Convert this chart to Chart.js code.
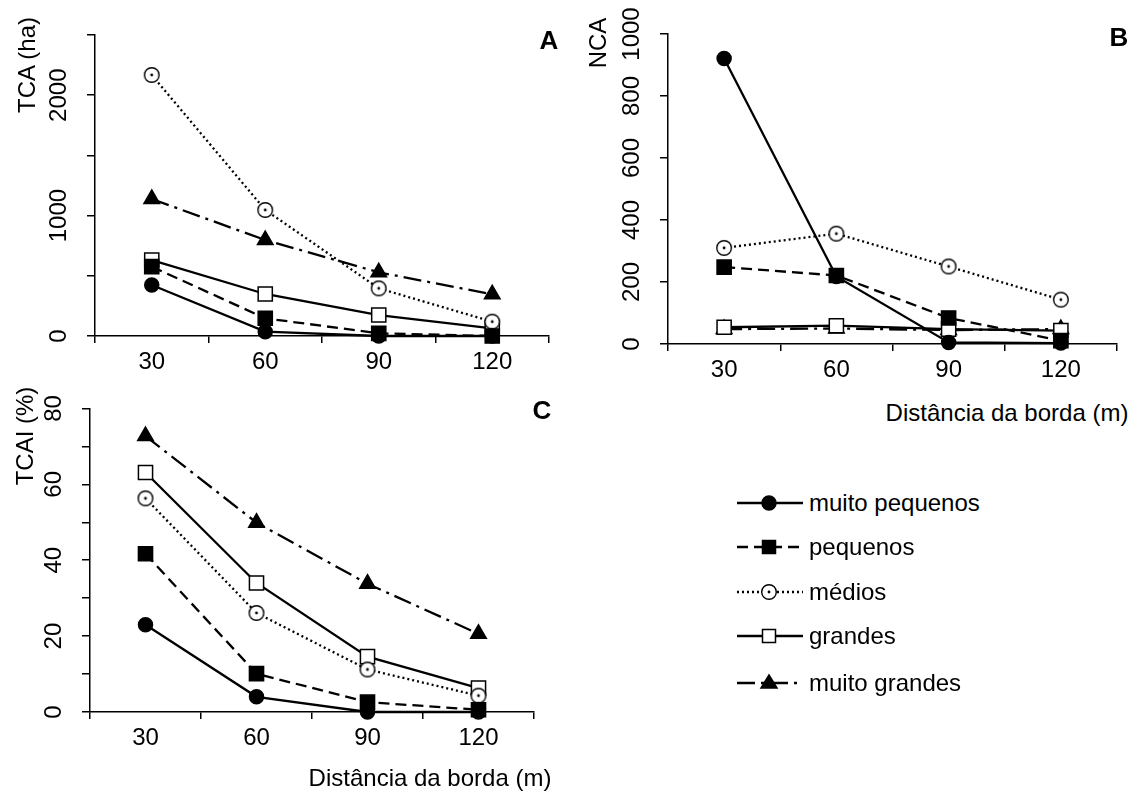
<!DOCTYPE html>
<html>
<head>
<meta charset="utf-8">
<script src="https://cdn.jsdelivr.net/npm/chart.js@4.4.1/dist/chart.umd.min.js"></script>
<style>
  body { margin: 0; background: #fff; width: 1135px; height: 796px; position: relative; overflow: hidden;
         font-family: "Liberation Sans", Arial, sans-serif; color: #000; }
  canvas.painel { position: absolute; }
  .txt { position: absolute; font-size: 24px; line-height: 1; white-space: nowrap; transform: translate(-50%, -50%); }
  .rot { transform: translate(-50%, -50%) rotate(-90deg); }
  .letra { font-weight: bold; font-size: 26px; }
  .leg { position: absolute; left: 737px; height: 24px; display: flex; align-items: center; font-size: 24px; }
  .leg canvas { margin-right: 6px; }
</style>
</head>
<body>
<canvas id="chartA" class="painel" width="570" height="380" style="left:0;top:0"></canvas>
<canvas id="chartB" class="painel" width="565" height="380" style="left:570px;top:0"></canvas>
<canvas id="chartC" class="painel" width="570" height="416" style="left:0;top:380px"></canvas>

<div class="txt rot" style="left:27px;top:65px">TCA (ha)</div>
<div class="txt rot" style="left:598px;top:43px">NCA</div>
<div class="txt rot" style="left:25px;top:436px">TCAI (%)</div>
<div class="txt" style="left:1007px;top:413px">Distância da borda (m)</div>
<div class="txt" style="left:430px;top:778px">Distância da borda (m)</div>
<div class="txt letra" style="left:549px;top:40px">A</div>
<div class="txt letra" style="left:1119px;top:37px">B</div>
<div class="txt letra" style="left:542px;top:410px">C</div>

<div id="legenda"></div>

<script>
const distancias = ["30", "60", "90", "120"];
const classes = ["muito pequenos", "pequenos", "médios", "grandes", "muito grandes"];

// A - TCA (ha)
const tcaMuitoPequenos = [424, 36, 0, 0];
const tcaPequenos = [576, 147, 22, 0];
const tcaMedios = [2168, 1047, 396, 119];
const tcaGrandes = [631, 349, 174, 64];
const tcaMuitoGrandes = [1138, 797, 529, 346];

// B - NCA
const ncaMuitoPequenos = [921, 218, 5, 3];
const ncaPequenos = [248, 221, 84, 11];
const ncaMedios = [310, 356, 250, 143];
const ncaGrandes = [54, 59, 48, 43];
const ncaMuitoGrandes = [48, 50, 45, 48];

// C - TCAI (%)
const tcaiMuitoPequenos = [23.0, 4.0, 0, 0];
const tcaiPequenos = [41.7, 10.1, 2.6, 0.6];
const tcaiMedios = [56.3, 26.1, 11.2, 4.3];
const tcaiGrandes = [63.1, 34.0, 14.6, 6.3];
const tcaiMuitoGrandes = [72.7, 49.9, 33.8, 20.6];

Chart.defaults.font.family = '"Liberation Sans", Arial, sans-serif';
Chart.defaults.color = "#000";

// circulo aberto com ponto no centro (medios)
function circuloAberto() {
  const c = document.createElement("canvas");
  c.width = 18; c.height = 18;
  const g = c.getContext("2d");
  g.fillStyle = "#fff";
  g.strokeStyle = "#000";
  g.lineWidth = 1.4;
  g.beginPath(); g.arc(9, 9, 7.3, 0, Math.PI * 2); g.fill(); g.stroke();
  g.fillStyle = "#000";
  g.beginPath(); g.arc(9, 9, 1.4, 0, Math.PI * 2); g.fill();
  return c;
}
const circImg = circuloAberto();

const estilos = [
  { dash: [], point: "circle", radius: 7, fill: "#000" },
  { dash: [11, 6], point: "rect", radius: 10, fill: "#000" },
  { dash: [2, 3], point: circImg, radius: 7, fill: "#fff" },
  { dash: [], point: "rect", radius: 10, fill: "#fff" },
  { dash: [18, 6, 3, 6], point: "triangle", radius: 9, fill: "#000" },
];

function series(lista) {
  return lista.map((v, i) => ({
    label: classes[i],
    data: v,
    borderColor: "#000",
    borderWidth: 2.3,
    borderDash: estilos[i].dash,
    pointStyle: estilos[i].point,
    pointRadius: estilos[i].radius,
    pointBackgroundColor: estilos[i].fill,
    pointBorderColor: "#000",
    pointBorderWidth: 1.5,
    tension: 0,
    fill: false,
    clip: false,
  }));
}

function painel(id, lista, max, step, every, box) {
  return new Chart(document.getElementById(id), {
    type: "line",
    data: { labels: distancias, datasets: series(lista) },
    options: {
      responsive: false,
      animation: false,
      events: [],
      layout: { padding: { top: box.top, right: box.right, left: 0, bottom: 0 } },
      plugins: { legend: { display: false }, tooltip: { enabled: false } },
      scales: {
        x: {
          offset: true,
          grid: { offset: true, drawOnChartArea: false, color: "#000", lineWidth: 1.5, tickLength: 7 },
          border: { color: "#000", width: 1.5 },
          ticks: { font: { size: 24 }, padding: 5, maxRotation: 0 },
          afterFit: (s) => { s.height = box.xh; },
        },
        y: {
          min: 0,
          max: max,
          grid: { drawOnChartArea: false, color: "#000", lineWidth: 1.5, tickLength: 8 },
          border: { color: "#000", width: 1.5 },
          ticks: {
            stepSize: step,
            minRotation: 90,
            maxRotation: 90,
            crossAlign: "center",
            padding: box.tp,
            font: { size: 24 },
            callback: (v) => (v % every === 0 ? v : ""),
          },
          afterFit: (s) => { s.width = box.yw; },
        },
      },
    },
  });
}

painel("chartA", [tcaMuitoPequenos, tcaPequenos, tcaMedios, tcaGrandes, tcaMuitoGrandes],
  2500, 500, 1000, { top: 35, right: 21, xh: 44, yw: 95, tp: 1 });
painel("chartB", [ncaMuitoPequenos, ncaPequenos, ncaMedios, ncaGrandes, ncaMuitoGrandes],
  1000, 100, 200, { top: 34, right: 18, xh: 36, yw: 98, tp: 1 });
painel("chartC", [tcaiMuitoPequenos, tcaiPequenos, tcaiMedios, tcaiGrandes, tcaiMuitoGrandes],
  80, 10, 20, { top: 20, right: 36, xh: 84, yw: 90, tp: 14 });

// legenda
const legTop = [503, 547, 592, 636, 683];
const legenda = document.getElementById("legenda");
classes.forEach((nome, i) => {
  const row = document.createElement("div");
  row.className = "leg";
  row.style.top = (legTop[i] - 12) + "px";
  const cv = document.createElement("canvas");
  cv.width = 66; cv.height = 24;
  const g = cv.getContext("2d");
  g.strokeStyle = "#000";
  g.lineWidth = 2.3;
  g.setLineDash(estilos[i].dash);
  g.beginPath(); g.moveTo(0, 12); g.lineTo(66, 12); g.stroke();
  g.setLineDash([]);
  g.fillStyle = estilos[i].fill;
  g.lineWidth = 1.5;
  g.beginPath();
  if (i === 0) { g.arc(32, 12, 7, 0, Math.PI * 2); g.fill(); g.stroke(); }
  else if (i === 1 || i === 3) { g.rect(25.5, 5.5, 13, 13); g.fill(); g.stroke(); }
  else if (i === 2) { g.drawImage(circImg, 23, 3); }
  else { g.moveTo(32, 4); g.lineTo(40, 17); g.lineTo(24, 17); g.closePath(); g.fill(); g.stroke(); }
  row.appendChild(cv);
  const sp = document.createElement("span");
  sp.textContent = nome;
  row.appendChild(sp);
  legenda.appendChild(row);
});
</script>
</body>
</html>
